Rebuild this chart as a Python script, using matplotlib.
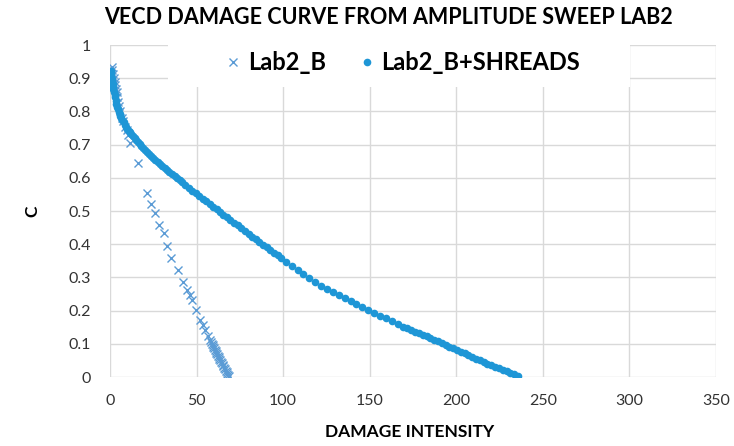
import matplotlib
matplotlib.use('Agg')
import matplotlib.pyplot as plt
from matplotlib.patches import Rectangle

# Lab2_B (plain binder)
lab2_b_d = [1.0, 1.4, 1.8, 2.2, 2.6, 3.0, 3.4, 3.8, 4.3, 4.8, 5.3, 5.8, 6.8, 7.7,
            8.7, 9.7, 10.6, 11.6, 16.0, 21.2, 23.7, 26.0, 28.3, 31.2, 33.1, 35.2,
            39.1, 42.3, 44.3, 46.2, 47.2, 49.7, 52.0, 53.9, 54.9, 56.8,
            57.8, 58.3, 58.7, 59.2, 59.6, 60.1, 60.5, 61.0, 61.4, 61.9, 62.3, 62.8,
            63.2, 63.7, 64.1, 64.6, 65.0, 65.5, 65.9, 66.4, 66.8, 67.3, 67.7, 68.2, 68.6]
lab2_b_c = [0.935, 0.924, 0.913, 0.902, 0.890, 0.879, 0.868, 0.857, 0.843, 0.829, 0.815,
            0.800, 0.780, 0.770, 0.754, 0.744, 0.729, 0.704, 0.644, 0.553, 0.520, 0.493,
            0.458, 0.433, 0.395, 0.357, 0.322, 0.287, 0.262, 0.247, 0.232, 0.202, 0.172,
            0.157, 0.142, 0.123,
            0.110, 0.105, 0.100, 0.096, 0.091, 0.087, 0.082, 0.078, 0.073, 0.069, 0.064,
            0.060, 0.055, 0.051, 0.046, 0.042, 0.037, 0.033, 0.028, 0.024, 0.019, 0.015,
            0.010, 0.006, 0.002]

# Lab2_B+SHREADS
shreads_d = [0.4, 0.6, 0.8, 1.0, 1.2, 1.5, 1.7, 2.0, 2.3, 2.6, 2.9, 3.3, 3.7, 4.1, 4.5, 5.0,
             5.5, 6.0, 6.6, 7.2, 7.9, 8.6, 9.3, 10.0, 10.8, 11.6, 12.4, 13.3, 14.2, 15.1,
             16.1, 17.1, 18.1, 19.2, 20.3, 21.4, 22.6, 23.8, 25.0, 26.2, 27.5, 28.8, 30.1,
             31.5, 32.9, 34.3, 35.8, 37.3, 38.8, 40.3, 41.8,
             43.5, 45.5, 47.5, 49.5, 51.5, 53.5, 55.5, 57.5, 59.5, 61.5, 63.5, 65.5, 67.5,
             69.5, 71.6, 73.7, 75.8, 77.9, 80.0, 82.1, 84.2, 86.3, 88.4, 90.5, 92.6, 94.7,
             96.8, 98.9,
             101.5, 104.9, 108.3, 111.7, 115.1, 118.5, 121.9, 125.3, 128.7, 132.1, 135.5,
             138.9, 142.3, 145.7, 149.1, 152.5, 155.9, 159.3, 162.7, 166.1, 169.5,
             171.8, 174.0, 176.2, 178.4, 180.6, 182.8, 185.0, 187.2, 189.4, 191.6, 193.8,
             196.0, 198.2, 200.4, 202.6, 204.8, 207.0, 209.2, 211.4, 213.6, 215.8, 218.0,
             220.2, 222.4, 224.6, 226.8, 229.0, 231.2, 233.4, 235.5]
shreads_c = [0.922, 0.914, 0.906, 0.898, 0.890, 0.882, 0.874, 0.866, 0.858, 0.850, 0.842,
             0.832, 0.823, 0.814, 0.806, 0.797,
             0.791, 0.786, 0.780, 0.774, 0.767, 0.760, 0.754, 0.748, 0.742, 0.737, 0.731,
             0.725, 0.720, 0.714, 0.708, 0.702, 0.696, 0.690, 0.684, 0.678, 0.672, 0.666,
             0.660, 0.654, 0.648, 0.642, 0.636, 0.630, 0.624, 0.618, 0.611, 0.605, 0.599,
             0.593, 0.588,
             0.577, 0.569, 0.561, 0.553, 0.545, 0.537, 0.529, 0.521, 0.513, 0.505, 0.497,
             0.489, 0.481, 0.473, 0.465, 0.457, 0.448, 0.440, 0.432, 0.423, 0.415, 0.407,
             0.399, 0.391, 0.382, 0.374, 0.366, 0.357,
             0.347, 0.334, 0.321, 0.309, 0.297, 0.285, 0.274, 0.264, 0.255, 0.246, 0.237,
             0.228, 0.219, 0.210, 0.202, 0.194, 0.185, 0.177, 0.169, 0.160, 0.152,
             0.147, 0.142, 0.137, 0.132, 0.127, 0.122, 0.117, 0.112, 0.107, 0.102, 0.097,
             0.091, 0.086, 0.081, 0.076, 0.071, 0.065, 0.060, 0.055, 0.050, 0.045, 0.040,
             0.036, 0.031, 0.026, 0.021, 0.017, 0.012, 0.008, 0.003]

x_ticks = [0, 50, 100, 150, 200, 250, 300, 350]
y_ticks = [0, 0.1, 0.2, 0.3, 0.4, 0.5, 0.6, 0.7, 0.8, 0.9, 1]

plt.rcParams['font.family'] = ['Lato', 'DejaVu Sans']

fig = plt.figure(figsize=(7.34, 4.46), dpi=100)
ax = fig.add_axes([0.1499, 0.1547, 0.8256, 0.7444])

ax.plot(lab2_b_d, lab2_b_c, linestyle='none', marker='x', markersize=6,
        markeredgewidth=1.0, color='#5b9bd5', label='Lab2_B', zorder=3)
ax.plot(shreads_d, shreads_c, linestyle='none', marker='o', markersize=5.5,
        markeredgewidth=0, color='#1e96d6', label='Lab2_B+SHREADS', zorder=4)

ax.set_xlim(0, 350)
ax.set_ylim(0, 1)
ax.set_xticks(x_ticks)
ax.set_yticks(y_ticks)
ax.set_yticklabels(['0' if v == 0 else ('1' if v == 1 else f'{v:.1f}') for v in y_ticks])
ax.grid(True, color='#d9d9d9', linewidth=1)
ax.set_axisbelow(True)
for s in ax.spines.values():
    s.set_visible(False)
ax.tick_params(length=0, labelsize=11.5, labelcolor='#333333')
ax.tick_params(axis='y', pad=14)
ax.tick_params(axis='x', pad=12)

# white box behind the legend hides the gridlines
ax.add_patch(Rectangle((0.0957, 0.873), 0.762, 0.135, transform=ax.transAxes,
                       facecolor='white', edgecolor='none', zorder=1, clip_on=False))

ax.legend(loc='center', bbox_to_anchor=(0.4835, 0.946), ncol=2, frameon=False,
          prop={'weight': 'bold', 'size': 17}, handlelength=0.65, handletextpad=0.3,
          columnspacing=1.4, markerscale=1.0)

ax.set_xlabel('DAMAGE INTENSITY', fontsize=12.5, fontweight='bold')
ax.set_ylabel('C', fontsize=12.5, fontweight='bold')
ax.xaxis.set_label_coords(0.495, -0.142)
ax.yaxis.set_label_coords(-0.115, 0.5)

fig.text(0.529, 0.96, 'VECD DAMAGE CURVE FROM AMPLITUDE SWEEP LAB2', ha='center',
         va='center', fontsize=15.5, fontweight='bold')

fig.savefig('out.png', dpi=100)
